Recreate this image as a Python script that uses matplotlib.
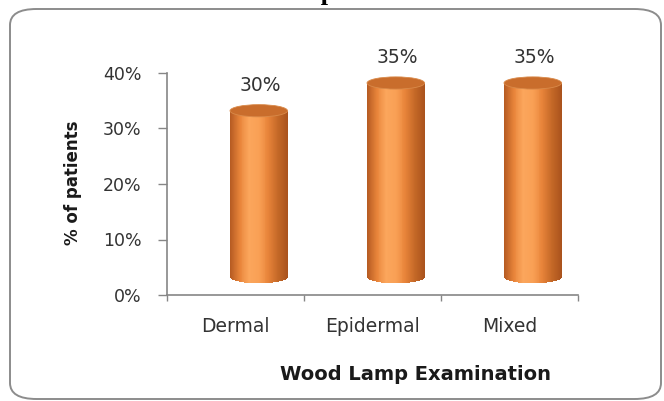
import numpy as np
import matplotlib
matplotlib.use("Agg")
import matplotlib.pyplot as plt
from matplotlib.patches import Ellipse, FancyBboxPatch
from matplotlib.colors import LinearSegmentedColormap

categories = ["Dermal", "Epidermal", "Mixed"]
values = [0.30, 0.35, 0.35]
value_labels = ["30%", "35%", "35%"]
y_ticks = [0.0, 0.1, 0.2, 0.3, 0.4]
y_tick_labels = ["0%", "10%", "20%", "30%", "40%"]

title = "Wood's lamp examination"
x_title = "Wood Lamp Examination"
y_title = "% of patients"

plt.rcParams["font.family"] = ["DejaVu Sans"]

fig = plt.figure(figsize=(6.64, 4.01), dpi=100)
ax = fig.add_axes([167 / 664, 106 / 401, 411 / 664, 222 / 401])

# rounded frame around the chart
frame = FancyBboxPatch((10 / 664, 2 / 401), 651 / 664, 390 / 401,
                       boxstyle="round,pad=0,rounding_size=0.04",
                       transform=fig.transFigure, fill=False,
                       edgecolor="#8c8c8c", linewidth=1.4, zorder=0)
fig.patches.append(frame)

# title mostly cut off at the top edge (as in the source image)
fig.text(335 / 664, 1 + 0.3 / 401, title, ha="center", va="baseline",
         family="Liberation Serif", weight="bold", fontsize=19, color="black")

# cylinder look: shading across width, 3D offset up/right
shade = LinearSegmentedColormap.from_list(
    "cyl", ["#b55a22", "#e8843a", "#fba65c", "#f9a055", "#e8843a", "#c46827", "#a9521d"])
w = 0.42
dx = 0.17
dy = 0.032
eh = 0.022
n_strips = 60
edges = np.linspace(-w / 2, w / 2, n_strips + 1)
mids = (edges[:-1] + edges[1:]) / 2
u = mids / (w / 2)
sag = eh / 2 * np.sqrt(np.clip(1 - u ** 2, 0, 1))
colors = shade((u + 1) / 2)

for i, v in enumerate(values):
    cx = i + dx
    bottoms = dy - sag
    heights = v + dy - bottoms
    ax.bar(cx + mids, heights, width=(w / n_strips) * 1.05, bottom=bottoms,
           color=colors, linewidth=0, zorder=3)
    ax.add_patch(Ellipse((cx, v + dy), w, eh, facecolor="#c96d2c",
                         edgecolor="#d98a4a", linewidth=0.6, zorder=4))
    ax.text(cx + 0.01, v + 0.078, value_labels[i], ha="center", va="center",
            fontsize=13.5, color="#333333", zorder=5)

ax.set_xlim(-0.5, 2.5)
ax.set_ylim(0, 0.4)
ax.set_yticks(y_ticks)
ax.set_yticklabels(y_tick_labels)
ax.set_xticks(range(len(categories)))
ax.set_xticklabels(categories)
ax.set_xticks([-0.5, 0.5, 1.5, 2.5], minor=True)

ax.tick_params(axis="y", length=6.5, width=1, color="#868686", pad=12,
               labelsize=12.5, labelcolor="#333333")
ax.tick_params(axis="x", which="major", length=0, pad=16,
               labelsize=13.5, labelcolor="#333333")
ax.tick_params(axis="x", which="minor", length=4, width=1, color="#868686")

for side in ["top", "right"]:
    ax.spines[side].set_visible(False)
for side in ["left", "bottom"]:
    ax.spines[side].set_color("#868686")
    ax.spines[side].set_linewidth(1.2)

fig.text(73 / 664, 1 - 183 / 401, y_title, rotation=90, ha="center", va="center",
         weight="bold", fontsize=12, color="#1a1a1a")
fig.text(416 / 664, 1 - 375 / 401, x_title, ha="center", va="center",
         weight="bold", fontsize=14, color="#1a1a1a")

fig.savefig("out.png", dpi=100)
